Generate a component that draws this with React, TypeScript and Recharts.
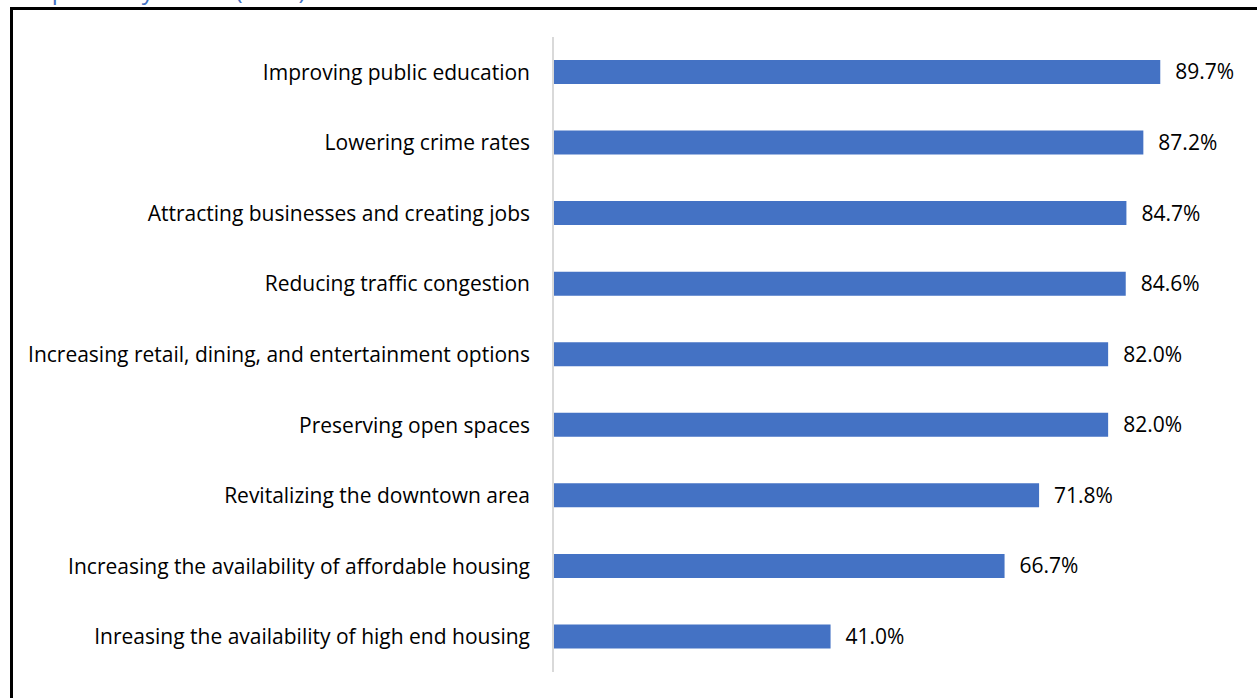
import { Bar, BarChart, LabelList, XAxis, YAxis } from "recharts";

const categories = [
	"Improving public education",
	"Lowering crime rates",
	"Attracting businesses and creating jobs",
	"Reducing traffic congestion",
	"Increasing retail, dining, and entertainment options",
	"Preserving open spaces",
	"Revitalizing the downtown area",
	"Increasing the availability of affordable housing",
	"Inreasing the availability of high end housing",
];

const shares = [89.7, 87.2, 84.7, 84.6, 82.0, 82.0, 71.8, 66.7, 41.0];

const TITLE = "Top Priority Issues (n=78)";
const BLUE = "#4472c4";
const FONT = "'Open Sans', 'Noto Sans', sans-serif";

const chartData = categories.map((name, i) => ({ name, value: shares[i] }));

export default function App() {
	return (
		<div
			style={{
				position: "absolute",
				left: 0,
				top: 0,
				width: 1257,
				height: 698,
				overflow: "hidden",
				background: "#fff",
				fontFamily: FONT,
			}}
		>
			<div
				style={{
					position: "absolute",
					left: 24,
					top: -27,
					color: BLUE,
					fontSize: 24,
					whiteSpace: "nowrap",
				}}
			>
				{TITLE}
			</div>
			<div
				style={{
					position: "absolute",
					left: 10,
					top: 7,
					width: 1300,
					height: 800,
					border: "3px solid #000",
				}}
			/>
			<div style={{ position: "absolute", left: 0, top: 0 }}>
				<BarChart
					width={1257}
					height={698}
					data={chartData}
					layout="vertical"
					margin={{ top: 37, right: 27, bottom: 26, left: 0 }}
				>
					<XAxis type="number" domain={[0, 100]} hide />
					<YAxis
						type="category"
						dataKey="name"
						width={553}
						tickSize={0}
						tickMargin={23}
						axisLine={{ stroke: "#d9d9d9", strokeWidth: 2 }}
						tickLine={false}
						interval={0}
						tick={{ fill: "#000", fontSize: 21, fontFamily: FONT }}
					/>
					<Bar dataKey="value" fill={BLUE} barSize={24} isAnimationActive={false}>
						<LabelList
							dataKey="value"
							position="right"
							offset={15}
							formatter={(v: number) => `${v.toFixed(1)}%`}
							style={{ fill: "#000", fontSize: 21, fontFamily: FONT }}
						/>
					</Bar>
				</BarChart>
			</div>
		</div>
	);
}
